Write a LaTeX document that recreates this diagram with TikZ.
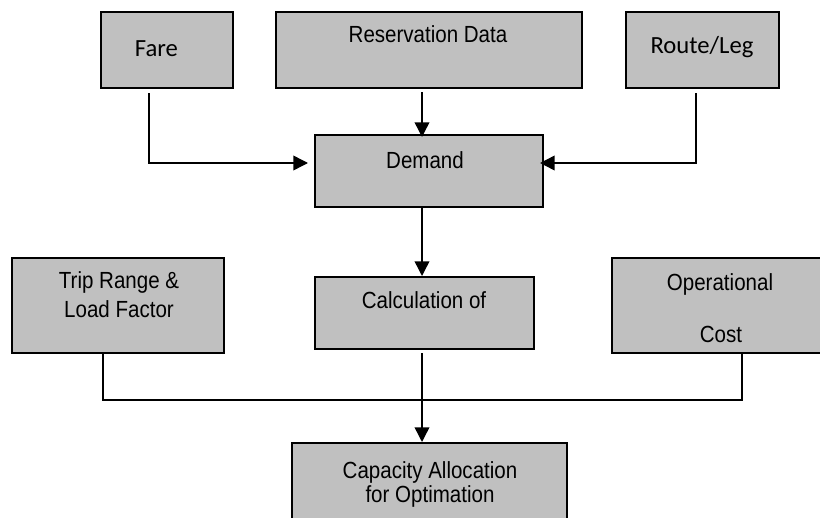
\documentclass[tikz,border=0pt]{standalone}
\usepackage{fontspec}
\setmainfont{Liberation Sans}
\newfontfamily\narrowfont{Liberation Sans}[FakeStretch=0.88]
\newfontfamily\carlito{Carlito}
\usetikzlibrary{arrows.meta,calc}
\definecolor{boxgray}{HTML}{C0C0C0}
\begin{document}
\begin{tikzpicture}[x=0.75pt,y=-0.75pt,
  box/.style={draw=black,fill=boxgray,line width=1.5pt,inner sep=0pt,anchor=center},
  txt/.style={font=\narrowfont\fontsize{17.5}{20}\selectfont,inner sep=0pt,align=center,text=black},
  ctxt/.style={font=\carlito\fontsize{18.5}{21}\selectfont,inner sep=0pt,text=black},
  conn/.style={line width=1.1pt,draw=black},
  arr/.style={conn,-{Triangle[length=11pt,width=11pt]}}]
\useasboundingbox (0,0) rectangle (820,517);
\clip (0,0) rectangle (820,517);
\fill[white] (0,0) rectangle (820,517);
% boxes
\node[box,minimum width=99pt,minimum height=57pt] (fare) at (167,50) {};
\node[box,minimum width=229.5pt,minimum height=57pt] (res) at (429,50) {};
\node[box,minimum width=114.75pt,minimum height=57pt] (route) at (702.5,50) {};
\node[box,minimum width=171pt,minimum height=54pt] (demand) at (429,171) {};
\node[box,minimum width=159pt,minimum height=71.25pt] (trip) at (118,305.5) {};
\node[box,minimum width=164.25pt,minimum height=54pt] (calc) at (424.5,313) {};
\node[box,minimum width=157.5pt,minimum height=71.25pt] (oper) at (717,305.5) {};
\node[box,minimum width=206.25pt,minimum height=64.5pt] (cap) at (429.5,486) {};
% texts
\node[ctxt] (tfare) at (156.5,49) {Fare};
\node[txt,anchor=base] (tres) at (428,43) {Reservation Data};
\node[ctxt] (troute) at (702,47) {Route/Leg};
\node[txt,anchor=base] (tdemand) at (425,168) {Demand};
\node[txt,anchor=base] (ttrip1) at (119,288) {Trip Range \&};
\node[txt,anchor=base] (ttrip2) at (119,317) {Load Factor};
\node[txt,anchor=base] (tcalc) at (424,308) {Calculation of};
\node[txt,anchor=base] (toper1) at (720,290) {Operational};
\node[txt,anchor=base] (toper2) at (721,342) {Cost};
\node[txt,anchor=base] (tcap1) at (430,478) {Capacity Allocation};
\node[txt,anchor=base] (tcap2) at (430,502) {for Optimation};
% connector points
\coordinate (fs) at ($(fare.south)+(-18,4)$);
\coordinate (dw) at ($(demand.west)+(-6,-8)$);
\coordinate (rs) at ($(route.south)+(-6.5,4)$);
\coordinate (de) at ($(demand.east)+(-4,-8)$);
\coordinate (ress) at ($(res.south)+(-7,3)$);
\coordinate (dn) at ($(demand.north)+(-7,3)$);
\coordinate (ds) at ($(demand.south)+(-7,0)$);
\coordinate (cn) at ($(calc.north)+(-2.5,0)$);
\coordinate (cs) at ($(calc.south)+(-2.5,3)$);
\coordinate (capn) at ($(cap.north)+(-7.5,0)$);
\coordinate (ts) at ($(trip.south)+(-15,0)$);
\coordinate (os) at ($(oper.south)+(25,0)$);
\coordinate (bus) at (0,400);
% connectors
\draw[arr] (fs) |- (dw);
\draw[arr] (rs) |- (de);
\draw[arr] (ress) -- (dn);
\draw[arr] (ds) -- (cn);
\draw[arr] (cs) -- (capn);
\draw[conn] (ts) -- (ts |- bus) -- (os |- bus) -- (os);
\end{tikzpicture}
\end{document}
